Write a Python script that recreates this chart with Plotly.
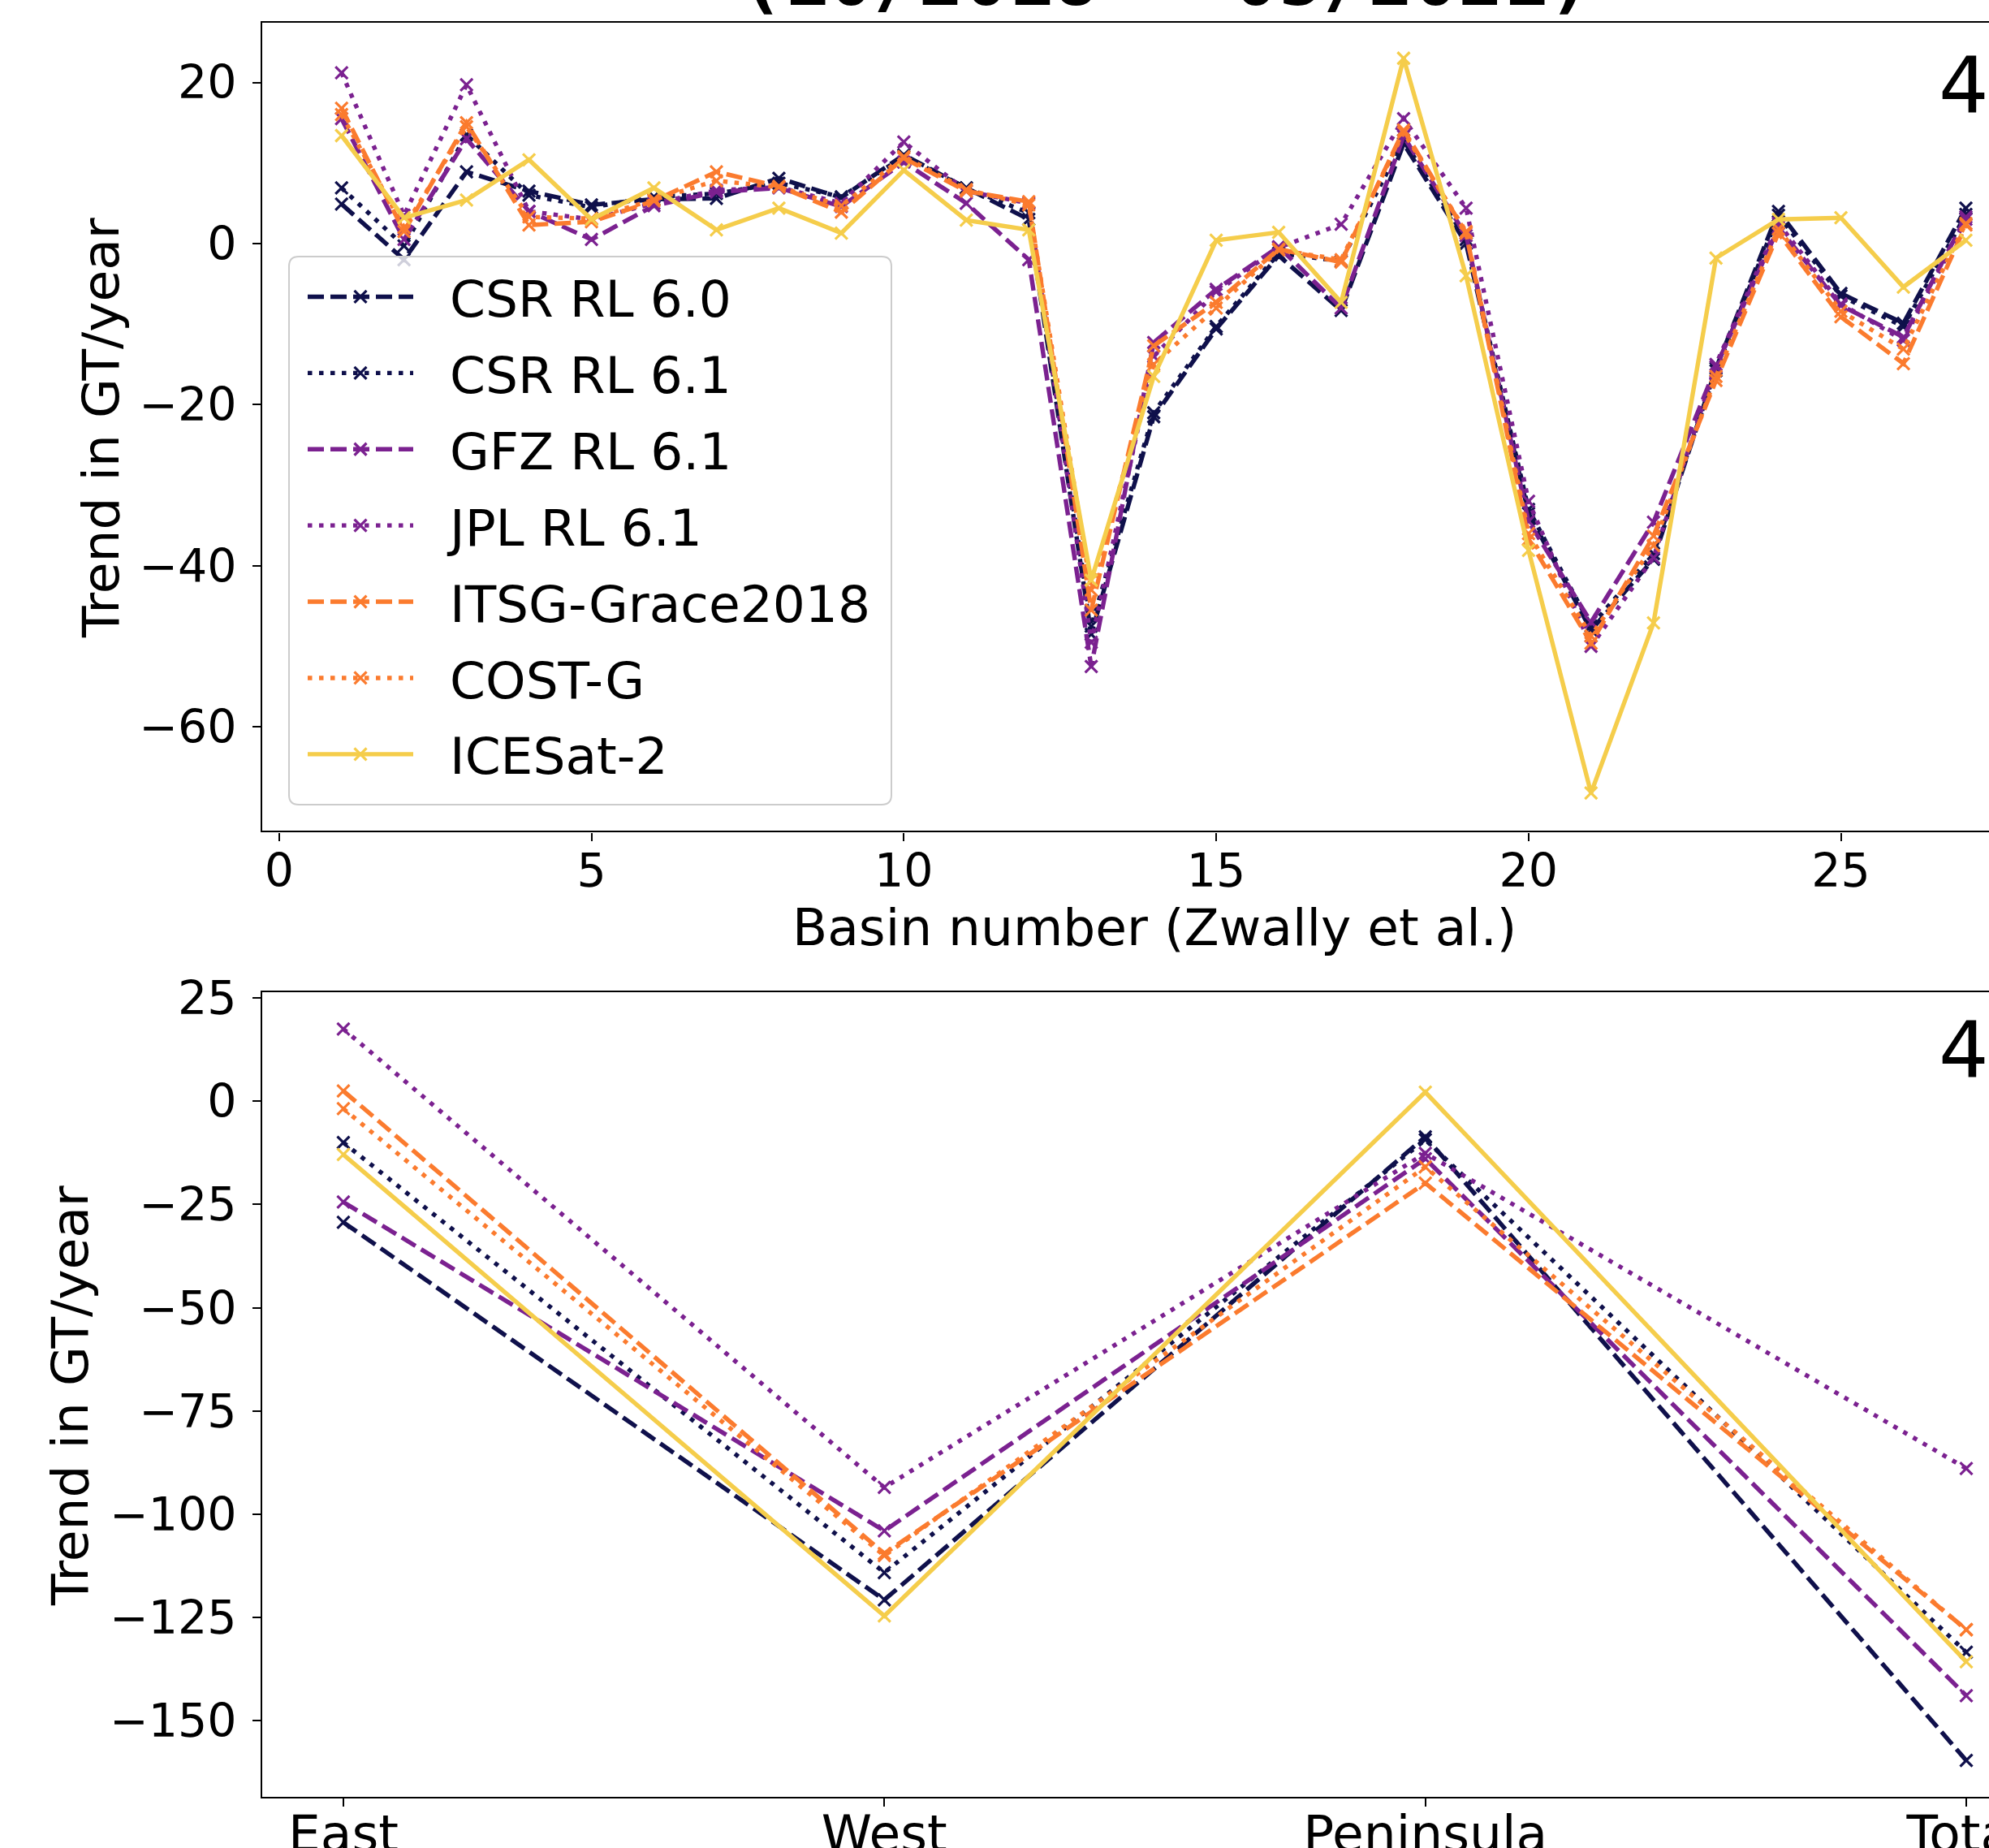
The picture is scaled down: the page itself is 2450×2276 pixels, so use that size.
import plotly.graph_objects as go

# ---------------- data ----------------
basins = list(range(1, 28))

csr60 = [4.9, -2.0, 8.9, 6.5, 4.8, 5.5, 5.6, 8.1, 5.7, 11.0, 6.9, 3.0, -48.5, -21.5, -10.6,
         -1.5, -8.3, 12.4, 0.0, -33.5, -48.0, -39.2, -15.5, 4.0, -6.2, -9.9, 4.4]
csr61 = [6.9, -0.3, 13.5, 6.0, 4.5, 5.8, 6.2, 7.5, 5.8, 10.8, 6.9, 3.8, -47.5, -21.0, -10.3,
         -1.2, -2.2, 12.8, 0.5, -33.0, -47.5, -38.5, -15.8, 3.5, -6.5, -10.3, 3.6]
gfz61 = [15.5, 0.5, 13.0, 4.0, 0.5, 4.7, 6.4, 6.9, 4.6, 10.1, 5.0, -2.0, -52.5, -12.3, -5.7,
         -0.4, -8.0, 13.3, 1.0, -34.5, -47.0, -34.6, -15.3, 2.0, -7.7, -11.6, 3.3]
jpl61 = [21.2, 3.5, 19.7, 4.0, 3.0, 5.0, 6.6, 7.0, 5.0, 12.6, 6.5, 5.0, -49.5, -14.0, -6.0,
         -0.5, 2.4, 15.5, 4.4, -32.0, -50.0, -39.0, -15.0, 2.5, -7.5, -12.0, 3.0]
itsg = [16.8, 1.5, 15.0, 2.3, 2.7, 5.3, 8.9, 7.1, 3.9, 10.6, 6.5, 5.2, -45.5, -12.7, -7.3,
        -0.7, -2.3, 14.1, 1.3, -36.7, -49.6, -36.3, -17.0, 1.3, -9.1, -14.9, 2.3]
costg = [16.0, 2.0, 14.5, 3.3, 3.1, 5.5, 7.8, 7.0, 4.7, 10.8, 6.7, 4.8, -43.0, -15.0, -8.0,
         -0.8, -2.0, 13.8, 1.5, -36.0, -48.7, -37.5, -16.5, 1.8, -8.4, -13.1, 2.5]
icesat2 = [13.4, 3.2, 5.4, 10.4, 3.0, 6.9, 1.7, 4.4, 1.3, 9.1, 2.9, 1.7, -41.8, -16.5, 0.4,
           1.4, -7.3, 23.0, -4.0, -38.1, -68.2, -47.1, -1.8, 3.0, 3.2, -5.4, 0.4]

regions = ["East", "West", "Peninsula", "Total"]
reg_csr60 = [-29.3, -120.7, -8.6, -159.6]
reg_csr61 = [-10.0, -114.1, -9.3, -133.4]
reg_gfz61 = [-24.4, -104.0, -13.9, -143.9]
reg_jpl61 = [17.5, -93.5, -12.6, -88.9]
reg_itsg = [2.5, -109.5, -19.8, -127.9]
reg_costg = [-1.8, -110.0, -15.9, -128.0]
reg_icesat2 = [-12.9, -124.6, 2.2, -135.7]

names = ["CSR RL 6.0", "CSR RL 6.1", "GFZ RL 6.1", "JPL RL 6.1",
         "ITSG-Grace2018", "COST-G", "ICESat-2"]
top_series = [csr60, csr61, gfz61, jpl61, itsg, costg, icesat2]
bot_series = [reg_csr60, reg_csr61, reg_gfz61, reg_jpl61, reg_itsg, reg_costg, reg_icesat2]

title_text = "(10/2018 - 05/2021)"
ylabel = "Trend in GT/year"
xlabel = "Basin number (Zwally et al.)"

# ---------------- styles ----------------
NAVY = "#0f104b"
PURPLE = "#7b2190"
ORANGE = "#fb7b2e"
YELLOW = "#f5cd4b"
DASH = "20px,8px"
DOT = "5.5px,8.5px"
colors = [NAVY, NAVY, PURPLE, PURPLE, ORANGE, ORANGE, YELLOW]
dashes = [DASH, DOT, DASH, DOT, DASH, DOT, "solid"]

W, H = 2450, 2276
FONT = "DejaVu Sans"
FS = 57      # tick labels
FSL = 63     # labels / legend / category ticks
LW = 5.4
MS = 15
NBSP = "\u00a0"

fig = go.Figure()

for i, (nm, ys) in enumerate(zip(names, top_series)):
    fig.add_trace(go.Scatter(
        x=basins, y=ys, name=NBSP * 2 + nm, mode="lines+markers",
        line=dict(color=colors[i], width=LW, dash=dashes[i]),
        marker=dict(symbol="x-thin", size=MS, color=colors[i],
                    line=dict(color=colors[i], width=3.2)),
        legendgroup=nm, xaxis="x", yaxis="y", showlegend=True))

for i, (nm, ys) in enumerate(zip(names, bot_series)):
    fig.add_trace(go.Scatter(
        x=regions, y=ys, name=nm, mode="lines+markers",
        line=dict(color=colors[i], width=LW, dash=dashes[i]),
        marker=dict(symbol="x-thin", size=MS, color=colors[i],
                    line=dict(color=colors[i], width=3.2)),
        legendgroup=nm, xaxis="x2", yaxis="y2", showlegend=False))

# pixel geometry (full-size reference)
left_px = 323.0
top1, bot1 = 28.0, 1023.4
top2, bot2 = 1222.0, 2212.5

axis_common = dict(
    showline=True, linecolor="black", linewidth=2.2,
    ticks="outside", ticklen=10, tickwidth=2.2, tickcolor="black",
    showgrid=False, zeroline=False,
    automargin=False,
)
tickfont = dict(family=FONT, size=FS, color="black")

fig.update_layout(
    width=W, height=H,
    margin=dict(l=0, r=0, t=0, b=0),
    paper_bgcolor="white", plot_bgcolor="white",
    font=dict(family=FONT, size=FS, color="black"),
    xaxis=dict(domain=[left_px / W, 1.0], range=[-0.27, 27.37],
               tickmode="linear", tick0=0, dtick=5, mirror=True,
               anchor="y", ticklabelstandoff=-12, tickfont=tickfont, **axis_common),
    yaxis=dict(domain=[1 - bot1 / H, 1 - top1 / H], range=[-72.92, 27.41],
               tickmode="linear", tick0=0, dtick=20, anchor="x",
               ticklabelstandoff=8, tickfont=tickfont, **axis_common),
    xaxis2=dict(domain=[left_px / W, 1.0], range=[-0.15, 3.042],
                type="category", categoryorder="array", categoryarray=regions,
                mirror=True, anchor="y2", ticklabelstandoff=-20,
                tickfont=dict(family=FONT, size=FSL, color="black"), **axis_common),
    yaxis2=dict(domain=[1 - bot2 / H, 1 - top2 / H], range=[-168.3, 26.4],
                tickmode="linear", tick0=0, dtick=25, anchor="x2",
                ticklabelstandoff=8, tickfont=tickfont, **axis_common),
    legend=dict(
        x=374 / W, y=1 - 318 / H, xanchor="left", yanchor="top",
        bgcolor="rgba(0,0,0,0)", borderwidth=0,
        font=dict(family=FONT, size=FSL, color="black"),
        tracegroupgap=9, itemwidth=130,
    ),
    showlegend=True,
)

# legend frame (rounded, semi-transparent like matplotlib's)
bx0, by0, bx1, by1 = 356 / W, 1 - 316 / H, 1098 / W, 1 - 991 / H
rx, ry = 12 / W, 12 / H
frame_path = (
    f"M{bx0 + rx},{by0} L{bx1 - rx},{by0} Q{bx1},{by0} {bx1},{by0 - ry} "
    f"L{bx1},{by1 + ry} Q{bx1},{by1} {bx1 - rx},{by1} "
    f"L{bx0 + rx},{by1} Q{bx0},{by1} {bx0},{by1 + ry} "
    f"L{bx0},{by0 - ry} Q{bx0},{by0} {bx0 + rx},{by0} Z"
)
fig.add_shape(type="path", path=frame_path, xref="paper", yref="paper",
              fillcolor="rgba(255,255,255,0.8)", line=dict(color="#cccccc", width=2),
              layer="above")

annotations = [
    dict(text=title_text, x=1436 / W, y=1 + 26 / H, xref="paper", yref="paper",
         xanchor="center", yanchor="middle", showarrow=False,
         font=dict(family="DejaVu Sans Mono", size=92, color="black", weight="bold")),
    dict(text=ylabel, x=125 / W, y=1 - 527 / H, xref="paper", yref="paper",
         textangle=-90, xanchor="center", yanchor="middle", showarrow=False,
         font=dict(family=FONT, size=FSL, color="black")),
    dict(text=ylabel, x=86 / W, y=1 - 1719 / H, xref="paper", yref="paper",
         textangle=-90, xanchor="center", yanchor="middle", showarrow=False,
         font=dict(family=FONT, size=FSL, color="black")),
    dict(text=xlabel, x=1422 / W, y=1 - 1142 / H, xref="paper", yref="paper",
         xanchor="center", yanchor="middle", showarrow=False,
         font=dict(family=FONT, size=FSL, color="black")),
    dict(text="4", x=2386 / W, y=1 - 105 / H, xref="paper", yref="paper",
         xanchor="left", yanchor="middle", showarrow=False,
         font=dict(family=FONT, size=97, color="black")),
    dict(text="4", x=2386 / W, y=1 - 1293 / H, xref="paper", yref="paper",
         xanchor="left", yanchor="middle", showarrow=False,
         font=dict(family=FONT, size=97, color="black")),
]
fig.update_layout(annotations=annotations)

fig.write_html("out.html", config={"displayModeBar": False},
               post_script="document.body.style.margin='0';")
